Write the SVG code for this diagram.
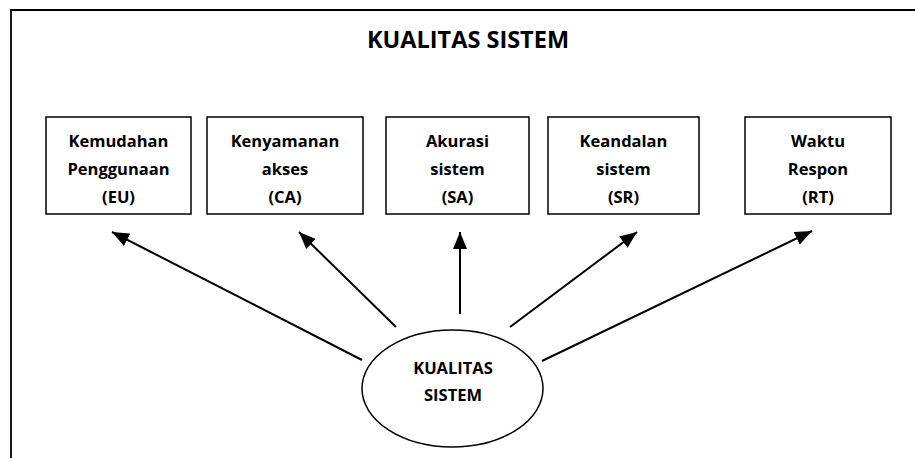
<svg xmlns="http://www.w3.org/2000/svg" width="915" height="458" viewBox="0 0 915 458">
<style>
.box{fill:#fff;stroke:#000;stroke-width:1.5}
.t{font-family:"Open Sans","Liberation Sans",sans-serif;font-weight:bold;font-size:16.5px;text-anchor:middle;fill:#000}
.title{font-size:23.5px}
.c{stroke:#000;stroke-width:2;fill:none;marker-end:url(#ah)}
</style>
<defs>
<marker id="ah" markerUnits="userSpaceOnUse" markerWidth="18" markerHeight="14" viewBox="0 0 18 14" refX="17" refY="7" orient="auto">
<path d="M0,0 L17,7 L0,14 Z" fill="#000"/>
</marker>
</defs>
<rect width="915" height="458" fill="#fff"/>
<path d="M11,458 V10 H915" fill="none" stroke="#000" stroke-width="1.8"/>
<text class="t title" x="468" y="48">KUALITAS SISTEM</text>
<g id="eu"><rect class="box" x="46" y="117" width="145" height="97"/><text class="t" x="118.5" y="147">Kemudahan</text><text class="t" x="118.5" y="175">Penggunaan</text><text class="t" x="118.5" y="203">(EU)</text></g>
<g id="ca"><rect class="box" x="207" y="117" width="156" height="97"/><text class="t" x="285" y="147">Kenyamanan</text><text class="t" x="285" y="175">akses</text><text class="t" x="285" y="203">(CA)</text></g>
<g id="sa"><rect class="box" x="386" y="117" width="143" height="97"/><text class="t" x="457.5" y="147">Akurasi</text><text class="t" x="457.5" y="175">sistem</text><text class="t" x="457.5" y="203">(SA)</text></g>
<g id="sr"><rect class="box" x="548" y="117" width="151" height="97"/><text class="t" x="623.5" y="147">Keandalan</text><text class="t" x="623.5" y="175">sistem</text><text class="t" x="623.5" y="203">(SR)</text></g>
<g id="rt"><rect class="box" x="745" y="117" width="146" height="97"/><text class="t" x="818" y="147">Waktu</text><text class="t" x="818" y="175">Respon</text><text class="t" x="818" y="203">(RT)</text></g>
<g id="ks"><ellipse cx="452.5" cy="388.5" rx="90.5" ry="58.5" fill="#fff" stroke="#000" stroke-width="1.5"/><text class="t" x="453" y="374">KUALITAS</text><text class="t" x="453" y="401">SISTEM</text></g>
<g id="connectors">
<line class="c" x1="362" y1="360" x2="112" y2="232"/>
<line class="c" x1="396" y1="327" x2="299" y2="232"/>
<line class="c" x1="460" y1="314" x2="460" y2="232"/>
<line class="c" x1="510" y1="327" x2="637" y2="232"/>
<line class="c" x1="542" y1="361" x2="812" y2="231"/>
</g>
</svg>
